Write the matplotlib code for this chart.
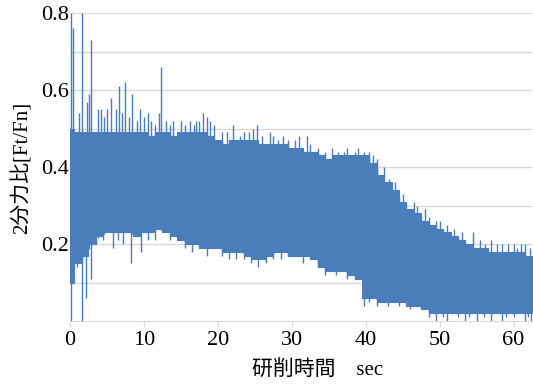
import numpy as np
import matplotlib
matplotlib.use('Agg')
import matplotlib.pyplot as plt

# envolvente de la señal, una muestra por segundo
t = list(range(0, 63)) + [62.6]
upper = [0.50, 0.49, 0.49, 0.49, 0.49, 0.49, 0.49, 0.49, 0.49, 0.49,
         0.49, 0.48, 0.49, 0.49, 0.48, 0.49, 0.49, 0.49, 0.49, 0.48,
         0.47, 0.46, 0.47, 0.47, 0.47, 0.47, 0.46, 0.46, 0.46, 0.46,
         0.45, 0.45, 0.44, 0.44, 0.43, 0.42, 0.43, 0.43, 0.43, 0.43,
         0.43, 0.41, 0.38, 0.36, 0.34, 0.31, 0.29, 0.28, 0.26, 0.25,
         0.24, 0.23, 0.22, 0.21, 0.20, 0.19, 0.19, 0.18, 0.18, 0.18,
         0.18, 0.18, 0.17, 0.17]
lower = [0.10, 0.15, 0.17, 0.20, 0.22, 0.23, 0.23, 0.23, 0.23, 0.22,
         0.23, 0.23, 0.24, 0.23, 0.22, 0.21, 0.20, 0.20, 0.19, 0.19,
         0.19, 0.18, 0.18, 0.18, 0.17, 0.16, 0.16, 0.17, 0.18, 0.18,
         0.17, 0.17, 0.17, 0.16, 0.14, 0.13, 0.13, 0.13, 0.12, 0.11,
         0.06, 0.06, 0.05, 0.05, 0.05, 0.05, 0.04, 0.04, 0.03, 0.02,
         0.02, 0.02, 0.02, 0.02, 0.02, 0.02, 0.02, 0.02, 0.02, 0.02,
         0.02, 0.02, 0.02, 0.02]

# picos hacia arriba (tiempo, valor)
spike_up_t = [0.2, 0.4, 1.6, 2.3, 2.6, 2.9, 4.2, 5.0, 5.6, 6.2, 6.6, 7.4,
              8.4, 9.5, 10.5, 12.0, 12.3, 14.0, 15.0, 17.0, 18.0, 19.0,
              22.0, 24.8, 25.3, 27.0, 31.0, 32.0, 35.5, 37.0, 38.5, 41.0,
              45.0, 47.0, 48.0, 50.0, 54.5, 57.0, 60.0, 61.0,
              1.2, 3.8, 4.6, 7.0, 8.0, 9.0, 10.0, 11.0, 11.5, 13.0, 13.5,
              15.5, 16.3, 16.8, 17.5, 18.5, 19.5, 20.5, 21.3, 23.0, 23.5,
              24.2, 26.0, 27.5, 28.2, 28.8, 29.5, 30.5, 32.5, 33.5, 34.5,
              36.3, 37.5, 39.0, 39.8, 40.5, 41.5, 42.5, 43.2, 44.0, 45.5,
              46.5, 48.5, 49.5, 51.0, 52.0, 53.0, 55.5, 56.2, 57.8, 58.5,
              59.3, 60.5, 61.5, 62.2]
spike_up_v = [0.80, 0.76, 0.80, 0.57, 0.59, 0.73, 0.55, 0.55, 0.58, 0.55,
              0.61, 0.62, 0.59, 0.55, 0.54, 0.54, 0.66, 0.52, 0.52, 0.52,
              0.54, 0.52, 0.51, 0.50, 0.51, 0.49, 0.48, 0.48, 0.45, 0.44,
              0.44, 0.43, 0.33, 0.30, 0.29, 0.26, 0.23, 0.21, 0.20, 0.20,
              0.54, 0.55, 0.53, 0.54, 0.53, 0.52, 0.53, 0.52, 0.51, 0.52, 0.51,
              0.51, 0.52, 0.51, 0.52, 0.53, 0.51, 0.49, 0.49, 0.48, 0.49,
              0.49, 0.48, 0.48, 0.47, 0.48, 0.47, 0.47, 0.46, 0.45, 0.44,
              0.44, 0.45, 0.45, 0.44, 0.44, 0.42, 0.40, 0.37, 0.36, 0.31,
              0.31, 0.27, 0.26, 0.25, 0.24, 0.23, 0.21, 0.20, 0.20, 0.20,
              0.20, 0.19, 0.20, 0.19]
# picos hacia abajo
spike_dn_t = [0.2, 1.0, 1.6, 2.2, 2.9, 5.8, 8.3, 9.6, 25.5, 26.5, 39.8,
              40.5, 49.5, 51.0, 52.5, 53.5, 55.0, 57.0, 58.5, 60.0, 61.5, 62.4,
              3.5, 4.5, 6.5, 7.2, 10.5, 11.5, 13.5, 15.5, 16.5, 18.5, 20.5,
              21.5, 22.5, 23.5, 24.5, 27.5, 28.5, 29.5, 31.5, 33.5, 34.5,
              36.0, 37.5, 38.5, 41.5, 43.0, 44.5, 46.0, 47.5, 48.5, 50.5,
              54.0, 56.0, 59.0, 62.0]
spike_dn_v = [0.00, 0.14, 0.00, 0.06, 0.11, 0.19, 0.15, 0.18, 0.14, 0.15, 0.04,
              0.05, 0.00, 0.00, 0.01, 0.00, 0.00, 0.00, 0.00, 0.01, 0.00, 0.00,
              0.20, 0.21, 0.21, 0.20, 0.21, 0.21, 0.21, 0.19, 0.18, 0.17, 0.17,
              0.16, 0.16, 0.16, 0.15, 0.16, 0.16, 0.17, 0.15, 0.14, 0.12,
              0.12, 0.11, 0.11, 0.04, 0.04, 0.04, 0.03, 0.03, 0.01, 0.01,
              0.01, 0.01, 0.01, 0.01]

color = '#4a7ebb'
serif_cjk = ['Liberation Serif', 'Noto Sans CJK JP']

fig = plt.figure(figsize=(5.33, 3.84), dpi=100)
ax = fig.add_axes([70/533, 63/384, 462/533, 308/384])

ax.fill_between(t, lower, upper, color=color, lw=0.8, edgecolor=color, step='mid')
ax.vlines(spike_up_t, np.interp(spike_up_t, t, lower), spike_up_v, color=color, lw=1)
ax.vlines(spike_dn_t, spike_dn_v, np.interp(spike_dn_t, t, upper), color=color, lw=1)

ax.set_xlim(0, 62.5)
ax.set_ylim(0, 0.8)
ax.set_yticks(np.arange(0.1, 0.81, 0.1), minor=True)
ax.set_yticks([0.2, 0.4, 0.6, 0.8])
ax.set_yticklabels(['0.2', '0.4', '0.6', '0.8'])
ax.set_xticks(range(0, 61, 10))
ax.grid(axis='y', which='both', color='#d9d9d9', lw=1)
ax.set_axisbelow(True)
for s in ['top', 'right', 'left']:
    ax.spines[s].set_visible(False)
ax.spines['bottom'].set_color('#d9d9d9')
ax.tick_params(axis='y', which='both', length=0, pad=1)
ax.tick_params(axis='x', length=4, color='#d9d9d9', pad=3)
for lab in ax.get_xticklabels() + ax.get_yticklabels():
    lab.set_family(serif_cjk)
    lab.set_fontsize(16)

fig.text(318/533, 1 - 370/384, '研削時間\u3000sec', ha='center', va='center',
         fontsize=15, family=serif_cjk)
fig.text(22/533, 1 - 168/384, '2分力比[Ft/Fn]', ha='center', va='center',
         rotation=90, fontsize=15, family=serif_cjk)

plt.savefig('out.png', dpi=100)
